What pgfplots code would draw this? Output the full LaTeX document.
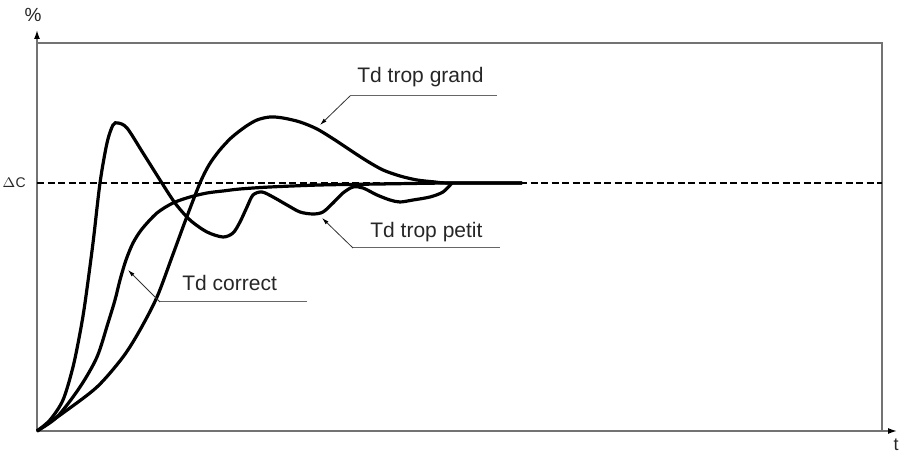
\documentclass[border=0pt]{standalone}
\usepackage{pgfplots}
\pgfplotsset{compat=1.18}
\usepackage{fontspec}
\setmainfont{Liberation Sans}
\usetikzlibrary{arrows.meta}
\begin{document}
\begin{tikzpicture}
\begin{axis}[
  x=0.5pt, y=0.5pt,
  xmin=0, xmax=845, ymin=0, ymax=388,
  axis lines=box, xtick=\empty, ytick=\empty,
  axis line style={draw=black!55, line width=0.75pt},
  clip=false,
]
% bounding box of the whole picture
\path[use as bounding box] (axis cs:-37,-22) rectangle (axis cs:866,431);

% set value
\addplot[black, line width=0.6pt, dash pattern=on 3.5pt off 1.75pt] coordinates {(0,248) (845,248)};

% Td trop petit
\addplot[black, line width=1.6pt, smooth] coordinates {
  (0,0) (13,11) (26,31) (36,64) (43,98) (48,128) (56,188) (63,248)
  (70,288) (76,306) (81,308) (90,303) (106,278) (123,251) (138,228)
  (153,211) (170,199) (186,194) (196,198) (203,209) (210,224) (216,236)
  (225,239) (236,234) (250,226) (263,219) (276,217) (286,219) (296,228)
  (306,238) (316,244) (326,243) (340,236) (353,231) (363,229) (376,231)
  (393,234) (406,239) (415,248)};

% Td correct
\addplot[black, line width=1.6pt, smooth] coordinates {
  (0,0) (20,14) (43,44) (60,74) (71,108) (78,131) (83,151) (89,171)
  (96,188) (105,202) (120,218) (136,228) (153,234) (170,238) (186,240)
  (203,242) (233,244) (283,246) (343,247) (413,248) (485,248)};

% Td trop grand
\addplot[black, line width=1.6pt, smooth] coordinates {
  (0,0) (26,18) (60,44) (86,74) (103,101) (120,134) (135,174) (149,212)
  (163,248) (172,266) (182,280) (194,293) (208,304) (220,311) (233,314)
  (246,313) (263,309) (280,302) (298,291) (313,281) (330,270) (346,261)
  (363,255) (380,251) (398,249) (413,248) (485,248)};

% axis arrows
\draw[black!55, line width=0.75pt, -{Latex[length=4.5pt,width=3pt,black]}]
  (axis cs:0,388) -- (axis cs:0,401);
\draw[black!55, line width=0.75pt, -{Latex[length=4.5pt,width=3pt,black]}]
  (axis cs:845,0) -- (axis cs:860,0);
\node[font=\fontsize{9.5}{11}\selectfont, text=black!85] at (axis cs:-4,416) {\%};
\node[font=\fontsize{9}{11}\selectfont, text=black!85] at (axis cs:859,-14) {t};
\node[font=\fontsize{7}{8}\selectfont, text=black!85] at (axis cs:-23,248) {$\Delta$C};

% leaders
\draw[black!60, line width=0.5pt] (axis cs:460,335) -- (axis cs:313,335);
\draw[black!80, line width=0.4pt, -{Latex[length=3.5pt,width=2pt,black]}]
  (axis cs:313,335) -- (axis cs:283,306);
\node[anchor=west, inner sep=0pt, font=\fontsize{10.5}{12}\selectfont, text=black!85]
  at (axis cs:320,354) {Td trop grand};

\draw[black!60, line width=0.5pt] (axis cs:463,183) -- (axis cs:316,183);
\draw[black!80, line width=0.4pt, -{Latex[length=3.5pt,width=2pt,black]}]
  (axis cs:316,183) -- (axis cs:285,213);
\node[anchor=west, inner sep=0pt, font=\fontsize{10.5}{12}\selectfont, text=black!85]
  at (axis cs:333,199) {Td trop petit};

\draw[black!60, line width=0.5pt] (axis cs:270,129) -- (axis cs:123,129);
\draw[black!80, line width=0.4pt, -{Latex[length=3.5pt,width=2pt,black]}]
  (axis cs:123,129) -- (axis cs:91,161);
\node[anchor=west, inner sep=0pt, font=\fontsize{10.5}{12}\selectfont, text=black!85]
  at (axis cs:145,148) {Td correct};
\end{axis}
\end{tikzpicture}
\end{document}
